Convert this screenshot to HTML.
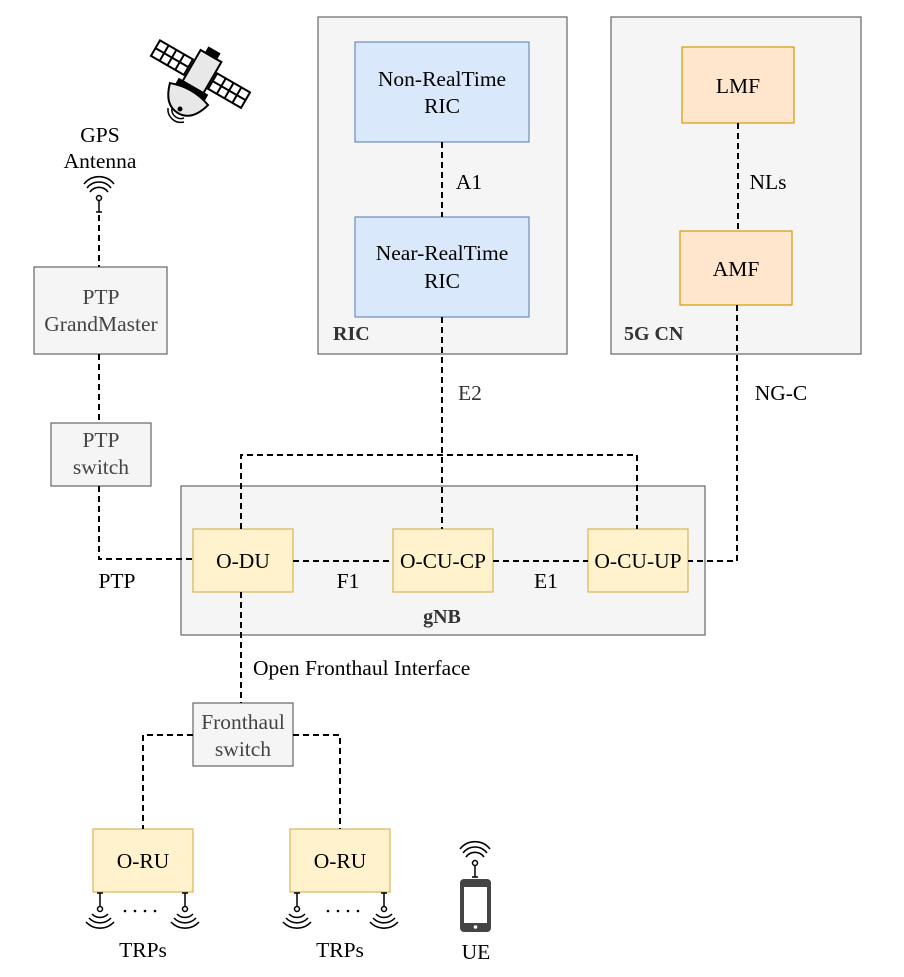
<!DOCTYPE html>
<html><head><style>body{margin:0;background:#fff}svg{display:block}text{font-family:"Liberation Serif","Times New Roman",serif;font-size:21.5px;fill:#000}</style></head>
<body>
<svg width="904" height="977" viewBox="0 0 904 977" xmlns="http://www.w3.org/2000/svg">
<defs>
<g id="ant"><path d="M-9,-6 a11,11 0 0 1 18,0 M-12,-10 a15,15 0 0 1 24,0 M-15,-14 a19,19 0 0 1 30,0" fill="none" stroke="#000" stroke-width="1.6"/><circle cx="0" cy="0" r="2.5" fill="#fff" stroke="#000" stroke-width="1.5"/><line x1="0" y1="2.5" x2="0" y2="14" stroke="#000" stroke-width="1.5"/><line x1="-3" y1="14" x2="3" y2="14" stroke="#000" stroke-width="1.5"/></g>
<g id="trp"><line x1="-3" y1="0" x2="3" y2="0" stroke="#000" stroke-width="1.5"/><line x1="0" y1="0" x2="0" y2="13" stroke="#000" stroke-width="1.5"/><circle cx="0" cy="16" r="2.5" fill="#fff" stroke="#000" stroke-width="1.5"/><path d="M-8,21 a11,11 0 0 0 16,0 M-11,25 a15,15 0 0 0 22,0 M-14,29 a19,19 0 0 0 28,0" fill="none" stroke="#000" stroke-width="1.6"/></g>
</defs>
<g fill="#f5f5f5" stroke="#666" stroke-width="1.2">
<rect x="318" y="17" width="249" height="337"/>
<rect x="611" y="17" width="250" height="337"/>
<rect x="181" y="486" width="524" height="149"/>
<rect x="34" y="267" width="133" height="87"/>
<rect x="51" y="423" width="100" height="63"/>
<rect x="193" y="703" width="100" height="63"/>
</g>
<g fill="#dae8fc" stroke="#6c8ebf" stroke-width="1.2"><rect x="355" y="42" width="174" height="100"/><rect x="355" y="217" width="174" height="100"/></g>
<g fill="#ffe6cc" stroke="#d79b00" stroke-width="1.2"><rect x="682" y="47" width="112" height="76"/><rect x="680" y="231" width="112" height="74"/></g>
<g fill="#fff2cc" stroke="#d6b656" stroke-width="1.2"><rect x="193" y="529" width="100" height="63"/><rect x="393" y="529" width="100" height="63"/><rect x="588" y="529" width="100" height="63"/><rect x="93" y="829" width="100" height="63"/><rect x="290" y="829" width="100" height="63"/></g>
<g fill="none" stroke="#000" stroke-width="2" stroke-dasharray="6,4">
<path d="M442,142V217M442,317V529M738,123V231M737,305V561H688M99,215V267M99,354V423M99,486V559H193M293,561H393M493,561H588M241,529V455H637V529M241,592V703M193,735H143V829M293,735H340V829"/>
</g>
<g text-anchor="middle">
<text x="442" y="86">Non-RealTime</text><text x="442" y="113">RIC</text>
<text x="442" y="260">Near-RealTime</text><text x="442" y="288">RIC</text>
<text x="738" y="93">LMF</text><text x="736" y="276">AMF</text>
<text x="101" y="304" style="fill:#444">PTP</text><text x="101" y="331" style="fill:#444">GrandMaster</text>
<text x="101" y="447" style="fill:#444">PTP</text><text x="101" y="474" style="fill:#444">switch</text>
<text x="243" y="729" style="fill:#444">Fronthaul</text><text x="243" y="756" style="fill:#444">switch</text>
<text x="243" y="568">O-DU</text><text x="443" y="568">O-CU-CP</text><text x="638" y="568">O-CU-UP</text>
<text x="143" y="868">O-RU</text><text x="340" y="868">O-RU</text>
<text x="469" y="189">A1</text><text x="768" y="189">NLs</text>
<text x="470" y="400" style="fill:#333">E2</text><text x="781" y="400">NG-C</text>
<text x="348" y="588">F1</text><text x="546" y="588">E1</text><text x="117" y="588">PTP</text>
<text x="100" y="142">GPS</text><text x="100" y="168">Antenna</text>
<text x="143" y="957">TRPs</text><text x="340" y="957">TRPs</text><text x="476" y="959">UE</text>
</g>
<text x="253" y="675">Open Fronthaul Interface</text>
<text x="333" y="340" style="font-weight:bold;fill:#333;font-size:20px">RIC</text>
<text x="624" y="340" style="font-weight:bold;fill:#333;font-size:20px">5G CN</text>
<text x="442" y="623" text-anchor="middle" style="font-weight:bold;fill:#333;font-size:20px">gNB</text>
<use href="#ant" x="99" y="198"/>
<use href="#trp" x="100" y="893"/><use href="#trp" x="185" y="893"/>
<use href="#trp" x="297" y="893"/><use href="#trp" x="384" y="893"/>
<g fill="#000"><circle cx="125" cy="911" r="1.3"/><circle cx="135" cy="911" r="1.3"/><circle cx="145" cy="911" r="1.3"/><circle cx="155" cy="911" r="1.3"/>
<circle cx="328" cy="911" r="1.3"/><circle cx="338" cy="911" r="1.3"/><circle cx="348" cy="911" r="1.3"/><circle cx="358" cy="911" r="1.3"/></g>
<use href="#ant" x="475" y="863"/>
<rect x="460" y="879" width="31" height="53" rx="4" fill="#444"/><rect x="464" y="887" width="23" height="36" fill="#fff"/><circle cx="475.5" cy="927" r="1.8" fill="#fff"/>
<g transform="translate(200,75) rotate(30)" stroke="#000" stroke-width="2">
<rect x="-12" y="-22" width="24" height="36" fill="#e8e8e8"/>
<rect x="-6" y="-28" width="12" height="6" fill="#000"/>
<rect x="-52" y="-10" width="38" height="18" fill="#fff"/><path d="M-42,-10v18M-33,-10v18M-24,-10v18M-52,-1h38" fill="none"/>
<rect x="14" y="-10" width="38" height="18" fill="#fff"/><path d="M24,-10v18M33,-10v18M42,-10v18M14,-1h38" fill="none"/>
<rect x="-16" y="14" width="32" height="5" fill="#000"/>
<path d="M-22,22 Q0,14 22,22 Q16,44 0,44 Q-16,44 -22,22Z" fill="#e8e8e8"/>
</g>
<circle cx="180" cy="109" r="2.5"/>
<path d="M172,108 a9,9 0 0 0 12,10 M168,108 a13,13 0 0 0 16,14" fill="none" stroke="#000" stroke-width="1.5"/>
</svg>
</body></html>
